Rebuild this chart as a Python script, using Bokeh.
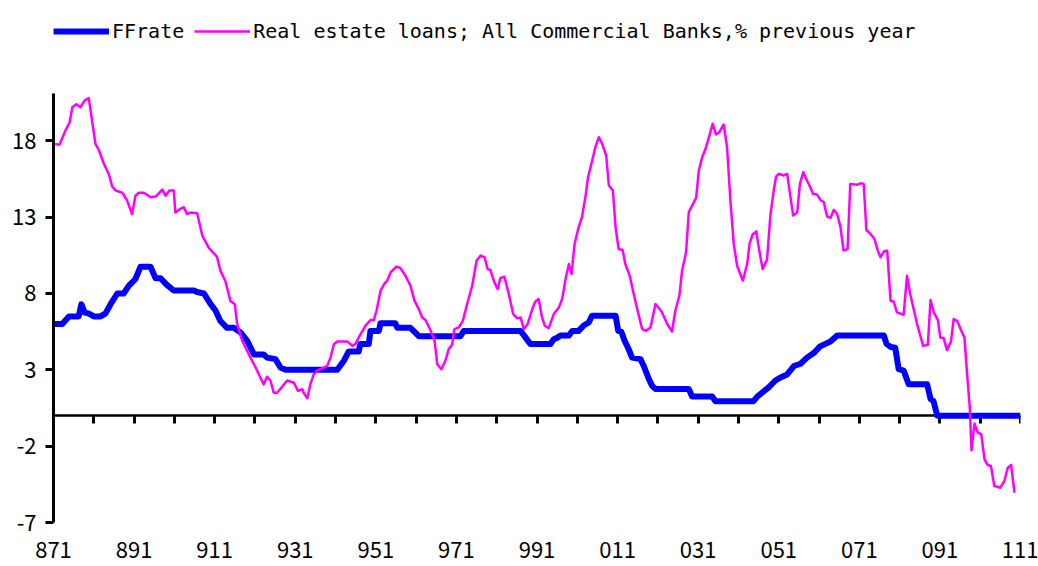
from bokeh.plotting import figure
from bokeh.models import Range1d, FixedTicker, Legend, LegendItem, LinearAxis
from bokeh.embed import file_html
from bokeh.resources import INLINE

# x = months since January 1987
tick_months = [0, 24, 48, 72, 96, 120, 144, 168, 192, 216, 240, 264, 288]
tick_labels = ["871", "891", "911", "931", "951", "971", "991",
               "011", "031", "051", "071", "091", "111"]
minor_months = list(range(12, 289, 12))
y_ticks = [-7, -2, 3, 8, 13, 18]
y_labels = ["-7", "-2", "3", "8", "13", "18"]
y_min, y_max = -7, 21.1

ff_month = [0, 2.6, 4.6, 7.5, 8.3, 9.3, 10.4, 12.0, 14.0, 15.5,
            17.0, 19.0, 20.9, 22.4, 24.4, 25.9, 28.9, 30.4, 31.9, 33.6,
            35.8, 41.8, 42.8, 44.8, 46.8, 48.2, 49.7, 51.7, 53.7, 55.7,
            57.7, 59.7, 62.6, 63.6, 66.1, 67.6, 69.1, 84.5, 86.5, 87.9,
            90.9, 91.4, 93.9, 94.4, 96.9, 97.4, 101.8, 102.4, 106.3, 108.8,
            121.2, 122.2, 139.1, 142.0, 148.0, 149.0, 150.0, 151.0, 153.5, 154.5,
            156.4, 157.9, 159.4, 160.4, 167.4, 168.2, 169.1, 170.1, 171.3, 172.3,
            174.8, 175.8, 177.3, 178.3, 179.3, 189.2, 190.2, 196.2, 197.1, 208.5,
            209.6, 211.0, 213.0, 215.0, 216.5, 218.5, 220.5, 222.5, 224.4, 226.4,
            228.4, 229.9, 231.4, 233.4, 247.3, 248.1, 249.3, 250.7, 251.7, 253.2,
            254.7, 260.2, 261.2, 262.1, 263.2, 288]
ff_value = [6.0, 6.0, 6.5, 6.5, 7.3, 6.75, 6.7, 6.5, 6.5, 6.7,
            7.3, 8.0, 8.0, 8.5, 8.95, 9.75, 9.75, 9.0, 9.0, 8.6,
            8.2, 8.2, 8.1, 8.0, 7.3, 6.9, 6.2, 5.75, 5.75, 5.45,
            4.9, 4.0, 4.0, 3.8, 3.7, 3.15, 3.0, 3.0, 3.6, 4.2,
            4.2, 4.7, 4.7, 5.55, 5.55, 6.05, 6.05, 5.75, 5.75, 5.2,
            5.2, 5.55, 5.55, 4.7, 4.7, 5.0, 5.1, 5.25, 5.25, 5.55,
            5.55, 5.9, 6.1, 6.55, 6.55, 5.55, 5.5, 4.9, 4.35, 3.8,
            3.7, 3.25, 2.4, 1.95, 1.75, 1.75, 1.25, 1.25, 0.95, 0.95,
            1.25, 1.5, 1.85, 2.3, 2.5, 2.7, 3.25, 3.4, 3.8, 4.1,
            4.55, 4.7, 4.85, 5.25, 5.25, 4.7, 4.5, 4.45, 3.05, 2.95,
            2.05, 2.05, 1.1, 0.95, 0.0, 0.0]

re_month = [0.0, 1.8, 3.6, 4.8, 5.6, 6.8, 8.0, 9.3, 10.5, 11.5,
            12.5, 13.5, 15.0, 16.5, 17.5, 18.5, 20.5, 21.9, 23.4, 24.4,
            25.4, 26.9, 28.9, 30.4, 32.4, 33.4, 34.5, 35.8, 36.3, 37.8,
            38.8, 39.8, 40.8, 42.8, 44.3, 46.2, 48.7, 49.7, 51.2, 52.7,
            54.0, 54.7, 56.2, 58.2, 60.2, 61.6, 62.6, 63.6, 64.6, 65.6,
            66.6, 69.6, 71.6, 72.8, 74.1, 74.5, 75.6, 76.5, 77.5, 78.7,
            80.5, 81.5, 82.5, 83.5, 84.5, 87.5, 89.0, 89.9, 90.9, 92.9,
            94.4, 95.4, 96.2, 97.4, 98.6, 99.4, 100.4, 102.1, 103.3, 104.8,
            106.3, 107.5, 108.8, 109.8, 110.8, 112.1, 113.5, 114.3, 115.5, 116.7,
            117.7, 118.7, 119.4, 120.7, 121.9, 123.2, 124.7, 126.0, 127.2, 128.4,
            129.3, 130.1, 131.3, 132.3, 133.1, 134.3, 135.6, 136.9, 138.1, 139.1,
            140.1, 141.2, 142.6, 143.5, 144.5, 145.5, 146.3, 147.5, 149.0, 150.5,
            151.5, 152.5, 153.5, 154.3, 155.2, 156.4, 157.4, 158.4, 159.2, 160.2,
            161.4, 162.4, 163.4, 164.6, 165.4, 166.6, 167.4, 168.3, 169.5, 170.3,
            171.6, 172.8, 174.1, 175.3, 176.5, 177.8, 179.3, 181.1, 182.8, 184.2,
            185.2, 186.4, 187.2, 188.4, 189.2, 190.2, 191.4, 192.2, 193.2, 194.2,
            195.1, 196.3, 197.3, 198.3, 199.6, 200.6, 201.6, 202.6, 203.6, 205.3,
            206.6, 207.3, 208.2, 209.3, 210.2, 211.2, 212.5, 213.5, 214.5, 215.2,
            216.0, 217.5, 218.5, 220.3, 221.5, 222.3, 223.3, 224.4, 225.4, 226.2,
            227.4, 228.4, 229.4, 230.4, 231.4, 232.4, 233.4, 234.4, 235.3, 236.5,
            237.3, 239.3, 240.3, 241.3, 242.1, 243.3, 244.5, 245.5, 246.3, 247.3,
            248.3, 249.3, 250.2, 251.2, 253.2, 254.2, 255.2, 257.2, 259.0, 260.4,
            261.2, 262.2, 263.4, 264.1, 265.1, 266.1, 267.3, 268.1, 269.1, 270.3,
            271.3, 272.1, 272.9, 273.4, 274.3, 275.3, 276.3, 277.3, 278.2, 279.2,
            280.2, 282.0, 283.2, 284.2, 285.2, 286.2]
re_value = [17.8, 17.75, 18.7, 19.2, 20.2, 20.4, 20.2, 20.65, 20.8, 19.3,
            17.8, 17.4, 16.5, 15.8, 15.0, 14.75, 14.6, 14.1, 13.2, 14.4,
            14.6, 14.6, 14.3, 14.35, 14.8, 14.4, 14.75, 14.75, 13.3, 13.55,
            13.65, 13.2, 13.3, 13.25, 11.8, 11.0, 10.4, 9.5, 8.8, 7.5,
            7.3, 6.0, 4.9, 4.0, 3.15, 2.5, 2.05, 2.55, 2.3, 1.5,
            1.5, 2.3, 2.15, 1.62, 1.73, 1.5, 1.14, 2.06, 2.7, 2.98,
            3.15, 3.26, 3.8, 4.68, 4.86, 4.86, 4.57, 4.68, 5.12, 5.88,
            6.26, 6.26, 6.87, 8.18, 8.66, 8.84, 9.38, 9.76, 9.67, 9.17,
            8.51, 7.53, 6.98, 6.43, 6.26, 5.67, 4.9, 3.37, 3.04, 3.59,
            4.36, 4.64, 5.67, 5.78, 6.21, 7.31, 8.51, 10.15, 10.48, 10.37,
            9.6, 9.54, 8.73, 8.29, 9.01, 9.1, 7.96, 6.65, 6.37, 6.43,
            5.67, 6.0, 6.98, 7.48, 7.64, 6.43, 5.89, 5.73, 6.65, 7.09,
            7.64, 8.95, 9.93, 9.28, 11.25, 12.34, 13.0, 14.3, 15.6, 16.5,
            17.6, 18.24, 17.8, 17.04, 15.07, 14.74, 12.34, 10.92, 10.85, 9.93,
            9.17, 7.96, 6.76, 5.67, 5.56, 5.78, 7.31, 6.82, 6.0, 5.51,
            6.87, 7.85, 9.49, 10.7, 13.32, 13.76, 14.26, 16.06, 16.93, 17.48,
            18.14, 19.12, 18.42, 18.57, 19.07, 17.59, 14.09, 11.25, 9.82, 8.84,
            9.93, 11.25, 11.86, 12.07, 10.81, 9.6, 10.2, 13.1, 14.74, 15.66,
            15.84, 15.73, 15.84, 13.1, 13.32, 15.18, 15.95, 15.4, 14.96, 14.53,
            14.48, 14.13, 13.98, 13.04, 12.95, 13.48, 13.21, 12.34, 10.81, 10.92,
            15.18, 15.12, 15.22, 15.18, 12.16, 11.9, 11.57, 10.81, 10.37, 10.76,
            10.81, 7.53, 7.48, 6.76, 6.61, 9.17, 7.92, 6.0, 4.57, 4.64,
            7.57, 6.76, 6.26, 5.12, 5.08, 4.29, 4.86, 6.33, 6.21, 5.6,
            5.12, 2.72, 0.52, -2.27, -0.52, -1.12, -1.22, -2.86, -3.23, -3.3,
            -4.61, -4.72, -4.28, -3.41, -3.23, -5.05]

series_names = ["FFrate", "Real estate loans; All Commercial Banks,% previous year"]
series_colors = ["#0000FF", "#FF00FF"]
series_widths = [6, 2.5]

MONO = "DejaVu Sans Mono"
TICKF = "Noto Sans CJK JP"

# Layout in pixels: plot area 93..522 (vertical); the frame is stretched to the
# top of the canvas so the legend can sit inside it, the y axis is bounded.
H, FRAME_BOTTOM, AXIS_TOP = 566, 522, 93
y_top = y_min + (y_max - y_min) * FRAME_BOTTOM / (FRAME_BOTTOM - AXIS_TOP)

p = figure(width=1038, height=H, output_backend="svg", toolbar_location=None,
           x_range=Range1d(0, 288), y_range=Range1d(y_min, y_top),
           min_border_left=53, min_border_right=18,
           min_border_top=0, min_border_bottom=H - FRAME_BOTTOM)
p.outline_line_color = None
p.xgrid.visible = False
p.ygrid.visible = False

# bottom labels
xa = p.xaxis[0]
xa.ticker = FixedTicker(ticks=tick_months)
xa.major_label_overrides = {m: t for m, t in zip(tick_months, tick_labels)}
xa.axis_line_color = None
xa.major_tick_line_color = None
xa.minor_tick_line_color = None
xa.major_tick_out = 0
xa.major_tick_in = 0
xa.major_label_standoff = 19
xa.major_label_text_font = TICKF
xa.major_label_text_font_size = "22px"
xa.major_label_text_color = "black"

# axis line through zero with yearly ticks
zero_axis = LinearAxis(fixed_location=0, ticker=FixedTicker(ticks=minor_months),
                       major_label_overrides={m: "" for m in minor_months},
                       axis_line_color="black", axis_line_width=2.5,
                       major_tick_line_color="black", major_tick_line_width=3,
                       major_tick_out=8, major_tick_in=0,
                       minor_tick_line_color=None)
zero_axis.level = "underlay"
p.add_layout(zero_axis, "below")

ya = p.yaxis[0]
ya.bounds = (y_min, y_max)
ya.ticker = FixedTicker(ticks=y_ticks)
ya.major_label_overrides = {t: s for t, s in zip(y_ticks, y_labels)}
ya.axis_line_color = "black"
ya.axis_line_width = 3
ya.major_tick_line_color = "black"
ya.major_tick_line_width = 3
ya.major_tick_out = 8
ya.major_tick_in = 0
ya.minor_tick_line_color = None
ya.major_label_standoff = 9
ya.major_label_text_font = TICKF
ya.major_label_text_font_size = "22px"
ya.major_label_text_color = "black"

renderers = []
for xs, ys, col, lw in zip([ff_month, re_month], [ff_value, re_value],
                           series_colors, series_widths):
    renderers.append(p.line(xs, ys, line_color=col, line_width=lw, line_join="round"))

legend = Legend(items=[LegendItem(label=n, renderers=[r])
                       for n, r in zip(series_names, renderers)],
                location=(0, FRAME_BOTTOM - 43), orientation="horizontal",
                glyph_width=56, label_standoff=3, spacing=10, padding=0, margin=0,
                label_text_font=MONO, label_text_font_size="20px",
                label_text_color="black",
                background_fill_alpha=0, border_line_alpha=0)
p.add_layout(legend, "center")

open("out.html", "w").write(file_html(p, INLINE))
